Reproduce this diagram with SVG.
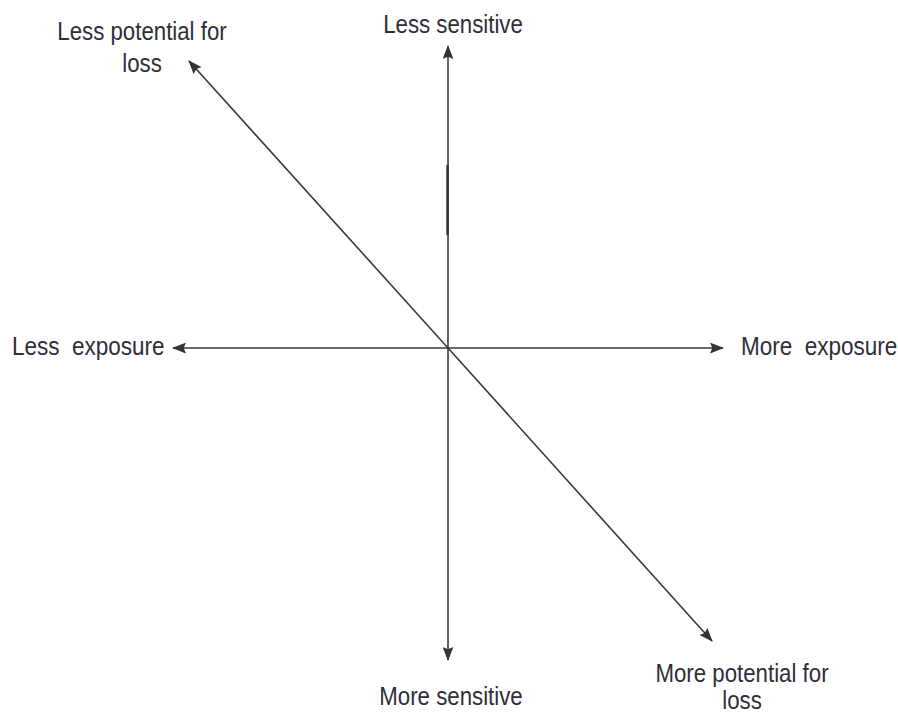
<svg xmlns="http://www.w3.org/2000/svg" width="898" height="714" viewBox="0 0 898 714">
<style>
.t{font-family:"Liberation Sans",Arial,sans-serif;font-size:25px;fill:#2e2e38;white-space:pre}
.c{text-anchor:middle}
.ax{stroke:#3a3a3a;stroke-width:1.6;fill:none}
</style>
<defs>
<marker id="ah" viewBox="0 0 13 10" refX="12" refY="5" markerWidth="14" markerHeight="11" markerUnits="userSpaceOnUse" orient="auto">
<path d="M0,0 L13,5 L0,10 L2,5 Z" fill="#333"/>
</marker>
</defs>
<rect width="898" height="714" fill="#fff"/>
<g id="connectors">
<line class="ax" x1="448" y1="348" x2="448" y2="46" marker-end="url(#ah)"/>
<line class="ax" x1="448" y1="348" x2="448" y2="660" marker-end="url(#ah)"/>
<line class="ax" x1="448" y1="348" x2="173" y2="348" marker-end="url(#ah)"/>
<line class="ax" x1="448" y1="348" x2="723" y2="348" marker-end="url(#ah)"/>
<line class="ax" x1="448" y1="348" x2="189" y2="61" marker-end="url(#ah)"/>
<line class="ax" x1="448" y1="348" x2="712" y2="641" marker-end="url(#ah)"/>
<line x1="447.5" y1="165" x2="447.5" y2="235" stroke="#333" stroke-width="2.4"/>
</g>
<g id="less-potential"><text class="t c" transform="translate(142,40) scale(0.89,1)">Less potential for</text><text class="t c" transform="translate(142,72) scale(0.89,1)">loss</text></g>
<g id="less-sensitive"><text class="t c" transform="translate(453,33) scale(0.89,1)">Less sensitive</text></g>
<g id="less-exposure"><text class="t" transform="translate(12,355) scale(0.9,1)">Less  exposure</text></g>
<g id="more-exposure"><text class="t" transform="translate(741,355) scale(0.9,1)">More  exposure</text></g>
<g id="more-sensitive"><text class="t c" transform="translate(451,705) scale(0.89,1)">More sensitive</text></g>
<g id="more-potential"><text class="t c" transform="translate(742,682) scale(0.89,1)">More potential for</text><text class="t c" transform="translate(742,709) scale(0.89,1)">loss</text></g>
</svg>
